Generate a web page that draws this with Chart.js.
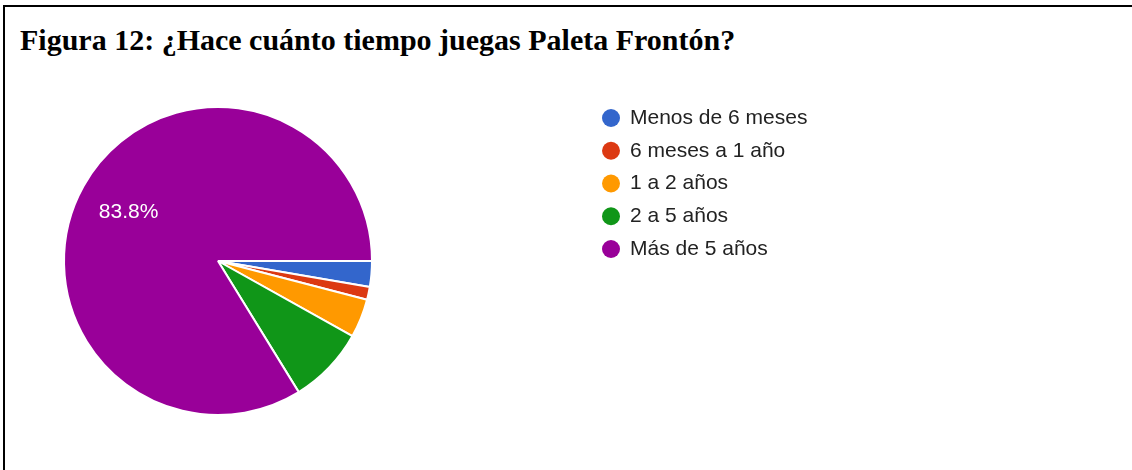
<!DOCTYPE html>
<html lang="es">
<head>
<meta charset="utf-8">
<title>Figura 12</title>
<script src="https://cdn.jsdelivr.net/npm/chart.js@4"></script>
<style>
  html, body { margin: 0; padding: 0; background: #fff; }
  body { width: 1132px; height: 470px; position: relative; overflow: hidden; }
  .marco {
    position: absolute; left: 3px; top: 5px; right: -10px; bottom: -10px;
    border-top: 2px solid #000; border-left: 2px solid #000;
  }
  h1 {
    position: absolute; left: 20px; top: 25px; margin: 0;
    font: bold 30px/30px "Liberation Serif", "Times New Roman", serif;
    color: #000; white-space: nowrap;
  }
  #grafico { position: absolute; left: 0; top: 0; }
</style>
</head>
<body>
<div class="marco"></div>
<h1>Figura 12: ¿Hace cuánto tiempo juegas Paleta Frontón?</h1>
<canvas id="grafico" width="1132" height="470"></canvas>
<script>
// Respuestas de la encuesta
const respuestas = ['Menos de 6 meses', '6 meses a 1 año', '1 a 2 años', '2 a 5 años', 'Más de 5 años'];
const cantidades = [2, 1, 3, 6, 62];
const colores = ['#3366cc', '#dc3912', '#ff9900', '#109618', '#990099'];

const total = cantidades.reduce((a, b) => a + b, 0);

// Porcentaje dentro de las porciones grandes
const etiquetasPorcentaje = {
    id: 'etiquetasPorcentaje',
    afterDatasetsDraw(chart) {
        const meta = chart.getDatasetMeta(0);
        const c = chart.ctx;
        c.save();
        c.font = '21px "Liberation Sans", Arial, sans-serif';
        c.fillStyle = '#ffffff';
        c.textAlign = 'center';
        c.textBaseline = 'middle';
        meta.data.forEach((arco, i) => {
            const pct = cantidades[i] / total * 100;
            if (pct < 10) return;
            const p = arco.getProps(['x', 'y', 'startAngle', 'endAngle', 'outerRadius'], true);
            const medio = (p.startAngle + p.endAngle) / 2;
            const r = p.outerRadius * 0.665;
            c.fillText(pct.toFixed(1) + '%', p.x + Math.cos(medio) * r, p.y + Math.sin(medio) * r + 1);
        });
        c.restore();
    }
};

// Leyenda a la derecha del pastel
const leyendaLateral = {
    id: 'leyendaLateral',
    afterDraw(chart) {
        const c = chart.ctx;
        c.save();
        c.font = '21px "Liberation Sans", Arial, sans-serif';
        c.textBaseline = 'middle';
        respuestas.forEach((texto, i) => {
            const y = 118 + i * 32.75;
            c.beginPath();
            c.arc(611, y, 9, 0, Math.PI * 2);
            c.fillStyle = colores[i];
            c.fill();
            c.fillStyle = '#222222';
            c.fillText(texto, 630, y);
        });
        c.restore();
    }
};

const ctx = document.getElementById('grafico').getContext('2d');
const grafico = new Chart(ctx, {
    type: 'pie',
    data: {
        labels: respuestas,
        datasets: [{
            data: cantidades,
            backgroundColor: colores,
            borderColor: '#ffffff',
            borderWidth: 2
        }]
    },
    options: {
        responsive: false,
        animation: false,
        rotation: 90,
        layout: {
            padding: { left: 63, top: 106, right: 759, bottom: 54 }
        },
        plugins: {
            legend: { display: false },
            tooltip: { enabled: false }
        }
    },
    plugins: [etiquetasPorcentaje, leyendaLateral]
});
</script>
</body>
</html>
